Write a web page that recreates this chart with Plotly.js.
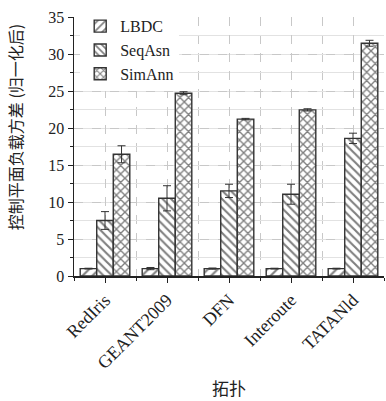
<!DOCTYPE html>
<html>
<head>
<meta charset="utf-8">
<script src="https://cdn.plot.ly/plotly-3.0.1.min.js"></script>
<style>html,body{margin:0;padding:0;background:#fff;}#chart{width:386px;height:401px;}</style>
</head>
<body>
<div id="chart"></div>
<script>
const categories = ["RedIris", "GEANT2009", "DFN", "Interoute", "TATANld"];
const seriesNames = ["LBDC", "SeqAsn", "SimAnn"];
const lbdc = [1.0, 1.0, 1.0, 1.0, 1.0];
const lbdcErr = [0.05, 0.15, 0.08, 0.05, 0.05];
const seqAsn = [7.5, 10.5, 11.5, 11.05, 18.6];
const seqAsnErr = [1.2, 1.7, 0.9, 1.35, 0.7];
const simAnn = [16.45, 24.7, 21.2, 22.45, 31.45];
const simAnnErr = [1.15, 0.2, 0.1, 0.15, 0.4];
const yTicks = [0, 5, 10, 15, 20, 25, 30, 35];
const xTitle = "拓扑";
const yTitle = "控制平面负载方差 (归一化后)";

const idx = categories.map((c, i) => i);
const serif = "Liberation Serif, DejaVu Serif, serif";
const cjk = "Noto Sans CJK SC, sans-serif";
const edge = "#333333";

function mk(name, vals, errs, shape, size, sol) {
  return {
    type: "bar", name: name, x: idx, y: vals,
    marker: {
      color: "#ffffff",
      line: {color: edge, width: 1.4},
      pattern: {shape: shape, size: size, solidity: sol, fgcolor: "#000000", bgcolor: "#ffffff", fillmode: "overlay"}
    },
    error_y: {type: "data", array: errs, visible: true, color: edge, thickness: 1, width: 4}
  };
}

const data = [
  mk(seriesNames[0], lbdc, lbdcErr, "/", 7, 0.3),
  mk(seriesNames[1], seqAsn, seqAsnErr, "\\", 6, 0.35),
  mk(seriesNames[2], simAnn, simAnnErr, "x", 6, 0.4)
];

const layout = {
  width: 386, height: 401,
  margin: {l: 74, r: 2, t: 17, b: 125},
  paper_bgcolor: "#ffffff", plot_bgcolor: "#ffffff",
  barmode: "group", bargap: 0.2, bargroupgap: 0,
  showlegend: true,
  legend: {x: 0.02, y: 1.03, xanchor: "left", yanchor: "top", bgcolor: "#ffffff",
           font: {family: serif, size: 16, color: "#222"}, tracegroupgap: 0, itemwidth: 30},
  xaxis: {
    range: [-0.5, 4.5], tickmode: "array", tickvals: idx, ticktext: categories,
    tickangle: -45, tickfont: {family: serif, size: 18, color: "#222"},
    showline: true, linecolor: "#222", linewidth: 1.5,
    ticks: "outside", ticklen: 5, tickcolor: "#222",
    showgrid: true, gridcolor: "#c8c8c8", griddash: "dash", gridwidth: 1,
    minor: {dtick: 0.5, tick0: 0.5, ticks: "outside", ticklen: 3, tickcolor: "#222", showgrid: true, gridcolor: "#c8c8c8", griddash: "dash"},
    zeroline: false
  },
  yaxis: {
    range: [0, 35], tickmode: "array", tickvals: yTicks,
    tickfont: {family: serif, size: 16, color: "#222"},
    showline: true, linecolor: "#222", linewidth: 1.5,
    ticks: "outside", ticklen: 5, tickcolor: "#222",
    showgrid: true, gridcolor: "#c8c8c8", griddash: "dash", gridwidth: 1,
    minor: {dtick: 2.5, ticks: "outside", ticklen: 3, tickcolor: "#222", showgrid: true, gridcolor: "#e2e2e2", griddash: "solid"},
    zeroline: false
  },
  annotations: [
    {text: yTitle, xref: "paper", yref: "paper", x: -0.19, y: 0.575, textangle: -90,
     showarrow: false, xanchor: "center", yanchor: "middle", font: {family: cjk, size: 16, color: "#222"}},
    {text: xTitle, xref: "paper", yref: "paper", x: 0.5, y: -0.43,
     showarrow: false, xanchor: "center", yanchor: "middle", font: {family: cjk, size: 17, color: "#222"}}
  ]
};

Plotly.newPlot("chart", data, layout, {staticPlot: true, displayModeBar: false});
</script>
</body>
</html>
